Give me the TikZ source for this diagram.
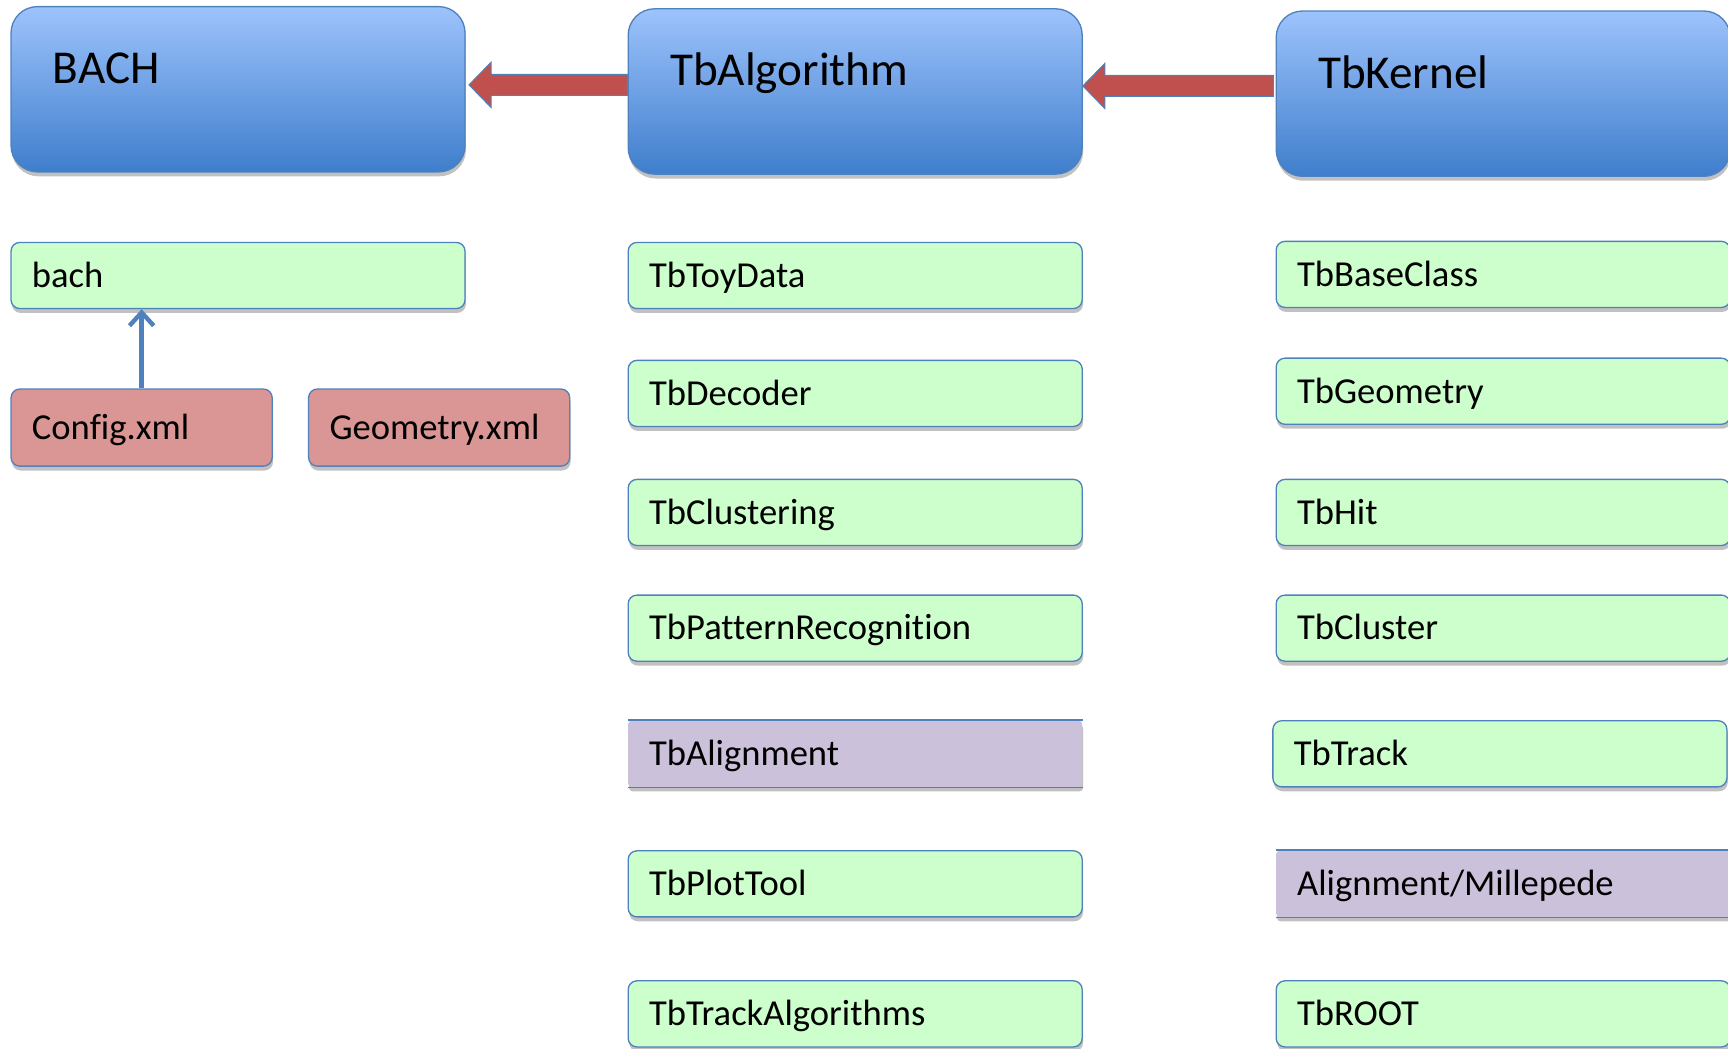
\documentclass[tikz,border=0pt]{standalone}
\usepackage{fontspec}
\setmainfont{Carlito}[Ligatures={NoCommon,NoContextual}]
\usetikzlibrary{shadows,calc,arrows.meta}
\definecolor{hdrtop}{RGB}{157,195,252}
\definecolor{hdrbot}{RGB}{63,126,204}
\definecolor{bordblue}{RGB}{79,129,189}
\definecolor{boxgreen}{RGB}{204,255,204}
\definecolor{boxred}{RGB}{217,150,148}
\definecolor{boxpurple}{RGB}{204,193,218}
\definecolor{arrowred}{RGB}{192,80,77}
\begin{document}
\begin{tikzpicture}[x=0.5pt,y=-0.5pt,
  shad/.style={drop shadow={shadow xshift=0.4pt,shadow yshift=-2pt,opacity=0.35,fill=black!70}},
  hdr/.style={shad,rounded corners=12pt,draw=bordblue,line width=0.6pt,
    top color=hdrtop,bottom color=hdrbot,
    text width=168pt,inner xsep=19pt,inner ysep=0pt,minimum height=75pt,align=left,
    font=\fontsize{21.4pt}{25pt}\selectfont,text height=13.8pt,text depth=18.8pt},
  smallbox/.style={shad,rounded corners=4pt,draw=bordblue,line width=0.6pt,fill=boxgreen,
    text width=187pt,inner xsep=9.5pt,inner ysep=0pt,minimum height=30pt,align=left,
    font=\fontsize{16.6pt}{20pt}\selectfont,text height=10.7pt,text depth=0pt},
  xmlbox/.style={smallbox,fill=boxred,text width=99.5pt,minimum height=35pt},
  purplebox/.style={smallbox,draw=none,fill=boxpurple,rounded corners=1.5pt},
  edgeline/.style={draw=bordblue,line width=0.6pt},
  bigarrow/.style={fill=arrowred,draw=bordblue,line width=0.5pt},
  bluearrow/.style={draw=bordblue,line width=2pt,-{Straight Barb[length=6pt,width=11pt]}}
]
\useasboundingbox (0,0) rectangle (1568,951);

% headers
\node[hdr] (bachH) at (216,81) {BACH};
\node[hdr] (algH)  at (776,83) {TbAlgorithm};
\node[hdr] (kerH)  at (1364,85) {TbKernel};

% big red arrows
\coordinate (t1) at ($(bachH.east)+(3,-4)$);
\draw[bigarrow] (t1) -- ++(20,-20.5) -- ++(0,11) -- ($(algH.west |- t1)+(0,-9.5)$)
  -- ($(algH.west |- t1)+(0,9.5)$) -- ($(t1)+(20,9.5)$) -- ($(t1)+(20,20.5)$) -- cycle;
\coordinate (t2) at ($(algH.east)+(0,-5)$);
\draw[bigarrow] (t2) -- ++(20,-20.5) -- ++(0,11) -- ($(kerH.west |- t2)+(-2,-9.5)$)
  -- ($(kerH.west |- t2)+(-2,9.5)$) -- ($(t2)+(20,9.5)$) -- ($(t2)+(20,20.5)$) -- cycle;

% BACH column
\node[smallbox] (bach) at (216,250) {bach};
\node[xmlbox] (config) at (128.5,388) {Config.xml};
\node[xmlbox] (geom) at (398.5,388) {Geometry.xml};
\draw[bluearrow] (config.north) -- (config.north |- bach.south);

% TbAlgorithm column
\node[smallbox] (toy)  at (776,250) {TbToyData};
\node[smallbox] (dec)  at (776,357) {TbDecoder};
\node[smallbox] (clu)  at (776,465) {TbClustering};
\node[smallbox] (pat)  at (776,570) {TbPatternRecognition};
\node[purplebox] (ali) at (776,684) {TbAlignment};
\draw[edgeline] (ali.north west) -- (ali.north east) (ali.south west) -- (ali.south east);
\node[smallbox] (plot) at (776,802) {TbPlotTool};
\node[smallbox] (tra)  at (776,920) {TbTrackAlgorithms};

% TbKernel column
\node[smallbox] (base) at (1364,249) {TbBaseClass};
\node[smallbox] (geo)  at (1364,355) {TbGeometry};
\node[smallbox] (hit)  at (1364,465) {TbHit};
\node[smallbox] (clus) at (1364,570) {TbCluster};
\node[smallbox] (trk)  at (1361,684) {TbTrack};
\node[purplebox] (mil) at (1364,802) {Alignment/Millepede};
\draw[edgeline] (mil.north west) -- (mil.north east) (mil.south west) -- (mil.south east);
\node[smallbox] (root) at (1364,920) {TbROOT};
\end{tikzpicture}
\end{document}
